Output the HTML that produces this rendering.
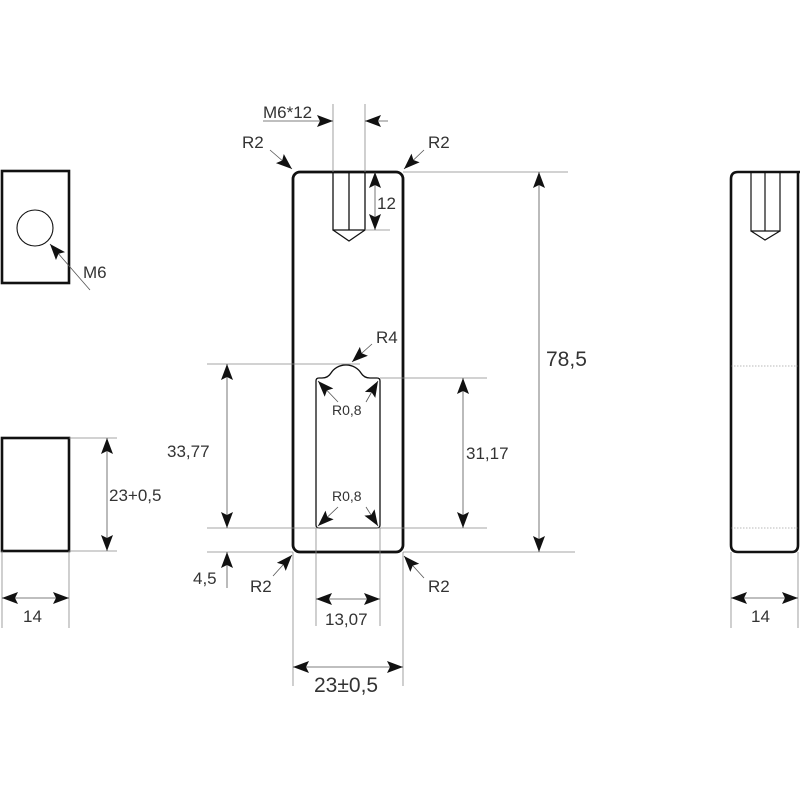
<!DOCTYPE html>
<html><head><meta charset="utf-8"><style>
html,body{margin:0;padding:0;background:#fff}
svg{display:block}
text{font-family:"Liberation Sans",sans-serif;fill:#333;font-size:17px}
</style></head><body>
<svg width="800" height="800" viewBox="0 0 800 800" xmlns="http://www.w3.org/2000/svg">
<defs>
<marker id="a" markerUnits="userSpaceOnUse" markerWidth="18" markerHeight="14" refX="16" refY="6" orient="auto-start-reverse">
<path d="M0,0 L16,6 L0,12 L3,6 z" fill="#111"/>
</marker>
</defs>
<g fill="none" stroke="#111">
<rect x="293" y="172" width="110" height="380" rx="7" stroke-width="2.8"/>
<path d="M319,378 L322,378 Q328,378 331,373 A18,18 0 0 1 361,373 Q364,378 370,378 L377,378 Q380,378 380,381 L380,525 Q380,528 377,528 L319,528 Q316,528 316,525 L316,381 Q316,378 319,378 Z" stroke-width="1.3"/>
<path d="M333,172 L333,230 L365,230 L365,172 M349,172 L349,230 M333,230 L349,241 L365,230" stroke-width="1.3"/>
<rect x="2" y="171" width="67" height="112" stroke-width="2.6"/>
<circle cx="35" cy="228" r="18" stroke-width="1.1"/>
<rect x="2" y="438" width="67" height="113" stroke-width="2.6"/>
<path d="M800,172 L738,172 Q731,172 731,179 L731,545 Q731,552 738,552 L792,552 Q798,552 798,545 L798,172" stroke-width="2.6"/>
<path d="M751,172 L751,231 L780,231 L780,172 M765,172 L765,231 M751,231 L765,240 L780,231" stroke-width="1.2"/>
</g>
<g stroke="#777" stroke-width="0.6" stroke-dasharray="1.5,1.5" fill="none">
<line x1="731" y1="366" x2="798" y2="366"/>
<line x1="731" y1="528" x2="798" y2="528"/>
</g>
<g stroke="#888" stroke-width="0.8" fill="none">
<line x1="333" y1="104" x2="333" y2="172"/>
<line x1="365" y1="104" x2="365" y2="172"/>
<line x1="365" y1="230" x2="390" y2="230"/>
<line x1="403" y1="172" x2="568" y2="172"/>
<line x1="403" y1="552" x2="575" y2="552"/>
<line x1="207" y1="364" x2="360" y2="364"/>
<line x1="207" y1="528" x2="487" y2="528"/>
<line x1="380" y1="378" x2="487" y2="378"/>
<line x1="207" y1="552" x2="293" y2="552"/>
<line x1="316" y1="528" x2="316" y2="626"/>
<line x1="380" y1="528" x2="380" y2="626"/>
<line x1="293" y1="552" x2="293" y2="686"/>
<line x1="403" y1="552" x2="403" y2="686"/>
<line x1="69" y1="438" x2="117" y2="438"/>
<line x1="69" y1="551" x2="117" y2="551"/>
<line x1="2" y1="551" x2="2" y2="628"/>
<line x1="69" y1="551" x2="69" y2="628"/>
<line x1="731" y1="552" x2="731" y2="628"/>
<line x1="798" y1="552" x2="798" y2="628"/>
</g>
<g stroke="#555" stroke-width="0.8" fill="none">
<line x1="263" y1="121" x2="333" y2="121" marker-end="url(#a)"/>
<line x1="388" y1="121" x2="365" y2="121" marker-end="url(#a)"/>
<line x1="375" y1="172" x2="375" y2="230" marker-start="url(#a)" marker-end="url(#a)"/>
<line x1="539" y1="172" x2="539" y2="552" marker-start="url(#a)" marker-end="url(#a)"/>
<line x1="227" y1="364" x2="227" y2="528" marker-start="url(#a)" marker-end="url(#a)"/>
<line x1="463" y1="378" x2="463" y2="528" marker-start="url(#a)" marker-end="url(#a)"/>
<line x1="227" y1="588" x2="227" y2="552" marker-end="url(#a)"/>
<line x1="316" y1="599" x2="380" y2="599" marker-start="url(#a)" marker-end="url(#a)"/>
<line x1="293" y1="667" x2="403" y2="667" marker-start="url(#a)" marker-end="url(#a)"/>
<line x1="107" y1="438" x2="107" y2="551" marker-start="url(#a)" marker-end="url(#a)"/>
<line x1="2" y1="598" x2="69" y2="598" marker-start="url(#a)" marker-end="url(#a)"/>
<line x1="731" y1="598" x2="798" y2="598" marker-start="url(#a)" marker-end="url(#a)"/>
<line x1="270" y1="150" x2="292" y2="169" marker-end="url(#a)"/>
<line x1="424" y1="150" x2="404" y2="169" marker-end="url(#a)"/>
<line x1="273" y1="576" x2="292" y2="555" marker-end="url(#a)"/>
<line x1="424" y1="578" x2="404" y2="556" marker-end="url(#a)"/>
<line x1="372" y1="344" x2="352" y2="362" marker-end="url(#a)"/>
<line x1="338" y1="402" x2="318" y2="381" marker-end="url(#a)"/>
<line x1="366" y1="402" x2="378" y2="381" marker-end="url(#a)"/>
<line x1="338" y1="507" x2="318" y2="526" marker-end="url(#a)"/>
<line x1="366" y1="507" x2="378" y2="526" marker-end="url(#a)"/>
<line x1="90" y1="290" x2="50" y2="244" marker-end="url(#a)"/>
</g>
<text x="263" y="118">M6*12</text>
<text x="377" y="209">12</text>
<text x="242" y="148">R2</text>
<text x="428" y="148">R2</text>
<text x="250" y="592">R2</text>
<text x="428" y="592">R2</text>
<text x="376" y="343">R4</text>
<text x="332" y="415" style="font-size:14px">R0,8</text>
<text x="332" y="501" style="font-size:14px">R0,8</text>
<text x="546" y="366" style="font-size:21px">78,5</text>
<text x="167" y="457">33,77</text>
<text x="466" y="459">31,17</text>
<text x="193" y="584">4,5</text>
<text x="325" y="625">13,07</text>
<text x="314" y="692" style="font-size:21px">23±0,5</text>
<text x="109" y="501">23+0,5</text>
<text x="23" y="622">14</text>
<text x="751" y="622">14</text>
<text x="83" y="278">M6</text>
</svg>
</body></html>
